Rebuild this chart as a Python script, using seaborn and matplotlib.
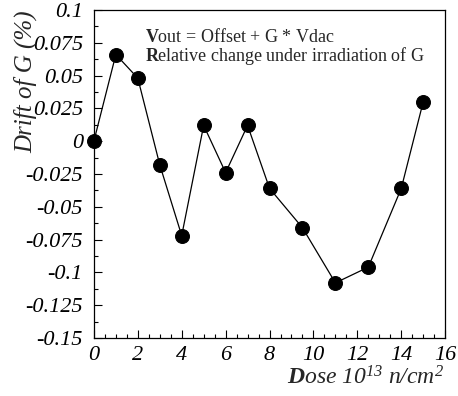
import matplotlib
matplotlib.use("Agg")
import matplotlib.pyplot as plt
import seaborn as sns
import pandas as pd
from matplotlib.ticker import MultipleLocator, FuncFormatter

dose = [0, 1, 2, 3, 4, 5, 6, 7, 8, 9.5, 11, 12.5, 14, 15]
drift = [0.0, 0.066, 0.048, -0.018, -0.072, 0.012, -0.024, 0.012, -0.036,
         -0.066, -0.108, -0.096, -0.036, 0.030]

sns.set_style("ticks")
plt.rcParams['font.family'] = ['Liberation Serif', 'DejaVu Serif']
plt.rcParams['font.style'] = 'italic'
plt.rcParams['mathtext.fontset'] = 'custom'
plt.rcParams['mathtext.rm'] = 'Liberation Serif:style=italic'
plt.rcParams['mathtext.it'] = 'Liberation Serif:style=italic'
plt.rcParams['mathtext.bf'] = 'Liberation Serif:style=normal:weight=bold'
plt.rcParams['mathtext.bfit'] = 'Liberation Serif:style=italic:weight=bold'

fig = plt.figure(figsize=(4.58, 3.96), dpi=100)
ax = fig.add_axes([0.205, 0.1465, 0.767, 0.8285])

df = pd.DataFrame({"dose": dose, "drift": drift})
sns.lineplot(data=df, x="dose", y="drift", ax=ax, color="black", lw=0.9,
             marker="o", markersize=10, markeredgecolor="black",
             markerfacecolor="black", clip_on=False, zorder=3)

ax.set_xlim(0, 16)
ax.set_ylim(-0.15, 0.1)
ax.xaxis.set_major_locator(MultipleLocator(2))
ax.xaxis.set_minor_locator(MultipleLocator(0.5))
ax.yaxis.set_major_locator(MultipleLocator(0.025))
ax.yaxis.set_minor_locator(MultipleLocator(0.0125))

def yfmt(v, pos):
    s = f"{v:.3f}".rstrip("0").rstrip(".")
    if s in ("-0", "0.", ""):
        s = "0"
    return s
ax.yaxis.set_major_formatter(FuncFormatter(yfmt))
ax.xaxis.set_major_formatter(FuncFormatter(lambda v, p: f"{v:g}"))

ax.tick_params(which="both", direction="in", top=False, right=False,
               colors="black", labelsize=16)
ax.tick_params(which="major", length=5.5, width=0.8)
ax.tick_params(which="minor", length=3, width=0.8)
ax.tick_params(axis="x", pad=6)
ax.tick_params(axis="y", pad=8)
for sp in ax.spines.values():
    sp.set_color("black")
    sp.set_linewidth(0.9)

ax.set_xlabel("")
ax.set_ylabel("")

fig.text(0.055, 0.975, "Drift of G (%)", rotation=90, ha="center", va="top",
         fontsize=18, fontstyle="italic")
fig.text(0.972, 0.028, r"$\mathbfit{D}ose\ 10^{13}\ n/cm^{2}$",
         ha="right", va="baseline", fontsize=17)

ax.text(0.145, 0.918, r"$\mathbf{V}$out = Offset + G * Vdac",
        transform=ax.transAxes, fontsize=13, va="center", ha="left",
        fontstyle="normal")
ax.text(0.145, 0.86, r"$\mathbf{R}$elative change under irradiation of G",
        transform=ax.transAxes, fontsize=13, va="center", ha="left",
        fontstyle="normal")

fig.savefig("out.png", dpi=100)
